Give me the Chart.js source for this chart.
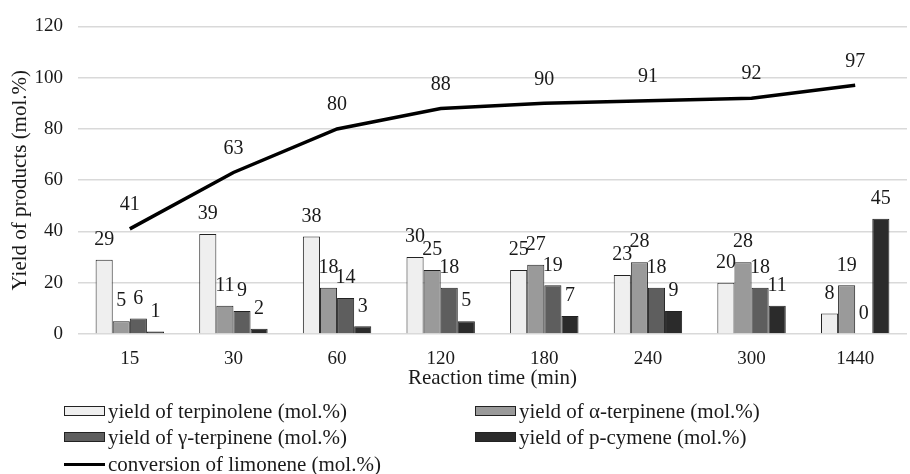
<!DOCTYPE html>
<html>
<head>
<meta charset="utf-8">
<script src="https://cdn.jsdelivr.net/npm/chart.js@4.4.0/dist/chart.umd.min.js"></script>
<style>
  html, body { margin: 0; padding: 0; background: #fff; }
  #wrap { position: relative; width: 910px; height: 474px; }
  .lg { position: absolute; font-family: "Liberation Serif", serif; font-size: 21px; line-height: 24px; color: #1a1a1a; display: flex; align-items: center; white-space: nowrap; }
  .lg .box { width: 39px; height: 8px; border: 1px solid #222; margin-right: 3px; }
  .lg .ln { width: 41px; height: 3px; background: #000; margin-right: 3px; }
</style>
</head>
<body>
<div id="wrap">
  <canvas id="c" width="910" height="474"></canvas>
  <div class="lg" style="left:64px; top:399px;"><span class="box" style="background:#efefef"></span>yield of terpinolene (mol.%)</div>
  <div class="lg" style="left:475px; top:399px;"><span class="box" style="background:#9a9a9a"></span>yield of α-terpinene (mol.%)</div>
  <div class="lg" style="left:64px; top:425px;"><span class="box" style="background:#5e5e5e"></span>yield of γ-terpinene (mol.%)</div>
  <div class="lg" style="left:475px; top:425px;"><span class="box" style="background:#2b2b2b"></span>yield of p-cymene (mol.%)</div>
  <div class="lg" style="left:64px; top:452px;"><span class="ln"></span>conversion of limonene (mol.%)</div>
</div>
<script>
const times = ['15', '30', '60', '120', '180', '240', '300', '1440'];
const terpinolene = [29, 39, 38, 30, 25, 23, 20, 8];
const alphaTerpinene = [5, 11, 18, 25, 27, 28, 28, 19];
const gammaTerpinene = [6, 9, 14, 18, 19, 18, 18, 0];
const pCymene = [1, 2, 3, 5, 7, 9, 11, 45];
const conversion = [41, 63, 80, 88, 90, 91, 92, 97];

const serif = '"Liberation Serif", serif';

// value labels above the bars and the line points
const valueLabels = {
  id: 'valueLabels',
  afterDatasetsDraw(chart) {
    const ctx = chart.ctx;
    ctx.save();
    ctx.font = '20px ' + serif;
    ctx.fillStyle = '#1a1a1a';
    ctx.textAlign = 'center';
    ctx.textBaseline = 'middle';
    chart.data.datasets.forEach((ds, i) => {
      chart.getDatasetMeta(i).data.forEach((el, j) => {
        const off = ds.type === 'line' ? 24 : 20;
        ctx.fillText(String(ds.data[j]), el.x, el.y - off);
      });
    });
    ctx.restore();
  }
};

const bar = (label, data, color) => ({
  type: 'bar', label, data,
  backgroundColor: color, borderColor: '#222', borderWidth: 1,
  categoryPercentage: 0.66, barPercentage: 1, order: 2
});

new Chart(document.getElementById('c'), {
  data: {
    labels: times,
    datasets: [
      { type: 'line', label: 'conversion of limonene (mol.%)', data: conversion,
        borderColor: '#000', borderWidth: 3.5, pointRadius: 0, tension: 0, order: 1 },
      bar('yield of terpinolene (mol.%)', terpinolene, '#efefef'),
      bar('yield of α-terpinene (mol.%)', alphaTerpinene, '#9a9a9a'),
      bar('yield of γ-terpinene (mol.%)', gammaTerpinene, '#5e5e5e'),
      bar('yield of p-cymene (mol.%)', pCymene, '#2b2b2b')
    ]
  },
  options: {
    responsive: false,
    animation: false,
    layout: { padding: { top: 23, right: 3, bottom: 83, left: 0 } },
    plugins: { legend: { display: false }, tooltip: { enabled: false } },
    scales: {
      x: {
        grid: { display: false, drawTicks: false },
        border: { display: false },
        ticks: { color: '#1a1a1a', font: { family: serif, size: 19 }, padding: 14 },
        title: { display: true, text: 'Reaction time (min)', color: '#1a1a1a',
                 font: { family: serif, size: 21 }, padding: { top: 0, bottom: 0 } },
        afterFit(s) { s.height = 57; }
      },
      y: {
        min: 0, max: 120,
        ticks: { stepSize: 20, color: '#1a1a1a', font: { family: serif, size: 19 }, padding: 15 },
        grid: { color: '#d9d9d9', lineWidth: 1.5, drawTicks: false },
        border: { display: false },
        title: { display: true, text: 'Yield of products (mol.%)', color: '#1a1a1a',
                 font: { family: serif, size: 21 }, padding: { top: 8, bottom: 0 } },
        afterFit(s) { s.width = 78; }
      }
    }
  },
  plugins: [valueLabels]
});
</script>
</body>
</html>
